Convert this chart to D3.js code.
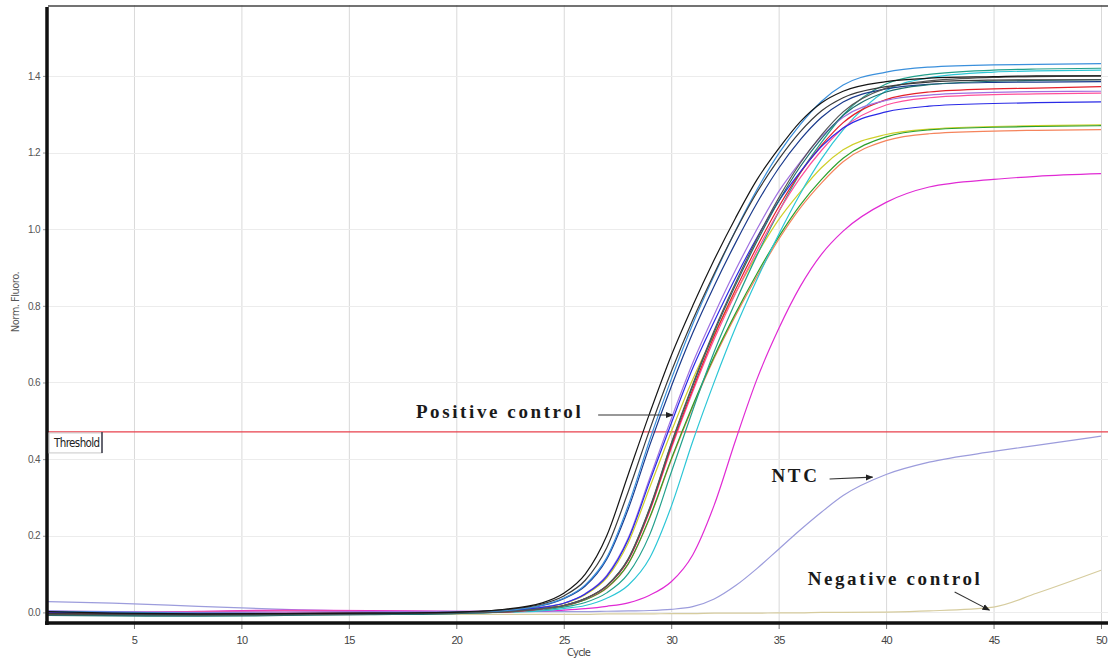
<!DOCTYPE html>
<html>
<head>
<meta charset="utf-8">
<script src="https://cdn.jsdelivr.net/npm/d3@7"></script>
<style>
    html, body { margin: 0; padding: 0; background: #fff; }
    #showBox { width: 1108px; height: 662px; }
</style>
</head>
<body>
<div id="showBox"></div>
<script>
const cycles = [1, 4, 8, 12, 16, 20, 22, 24, 25, 26, 27, 28, 29, 30, 31, 32, 33, 34, 35, 36, 37, 38, 40, 42, 45, 47, 50]

const black1 = [0.002, -0.002, -0.004, -0.003, -0.002, 0.001, .007, .025, .05, .10, .20, .36, .52, .67, .80, .92, 1.03, 1.13, 1.21, 1.28, 1.33, 1.36, 1.385, 1.394, 1.398, 1.40, 1.40]
const black2 = [-0.003, -0.004, -0.005, -0.004, -0.002, 0.0, .006, .022, .043, .084, .169, .315, .477, .628, .763, .884, .996, 1.097, 1.182, 1.254, 1.309, 1.343, 1.372, 1.384, 1.389, 1.39, 1.39]
const steelblue = [0.003, 0.001, -0.002, -0.003, -0.002, 0.001, .004, .019, .037, .072, .143, .279, .45, .608, .752, .879, .997, 1.104, 1.197, 1.273, 1.334, 1.376, 1.41, 1.423, 1.429, 1.43, 1.432]
const yellow = [-0.001, -0.003, -0.003, -0.002, -0.001, 0.001, .003, .013, .023, .046, .09, .182, .326, .471, .608, .725, .834, .935, 1.025, 1.097, 1.161, 1.207, 1.247, 1.261, 1.268, 1.27, 1.272]
const blue = [0.001, -0.001, -0.004, -0.005, -0.003, 0.0, .003, .013, .024, .048, .094, .19, .342, .493, .637, .759, .874, .979, 1.073, 1.149, 1.216, 1.264, 1.306, 1.321, 1.328, 1.33, 1.332]
const violet = [0.004, 0.002, 0.0, 0.001, 0.002, 0.003, .003, .014, .024, .049, .097, .194, .35, .505, .651, .777, .894, 1.001, 1.098, 1.175, 1.243, 1.292, 1.336, 1.35, 1.357, 1.359, 1.36]
const darkTeal = [-0.008, -0.009, -0.01, -0.008, -0.006, -0.003, .001, .01, .018, .036, .07, .139, .271, .438, .591, .731, .855, .969, 1.073, 1.163, 1.237, 1.297, 1.358, 1.377, 1.386, 1.388, 1.39]
const red = [-0.002, -0.003, -0.003, -0.002, 0.0, 0.001, .001, .01, .018, .036, .069, .137, .267, .432, .582, .721, .843, .955, 1.058, 1.147, 1.219, 1.278, 1.338, 1.358, 1.366, 1.368, 1.372]
const green = [-0.004, -0.005, -0.005, -0.004, -0.003, 0.0, .001, .009, .017, .033, .064, .127, .248, .4, .54, .668, .781, .885, .98, 1.063, 1.13, 1.185, 1.241, 1.259, 1.266, 1.268, 1.27]
const darkGray = [-0.006, -0.006, -0.007, -0.006, -0.004, -0.001, .001, .01, .018, .036, .07, .14, .273, .441, .595, .736, .861, .976, 1.081, 1.172, 1.246, 1.306, 1.368, 1.387, 1.396, 1.398, 1.40]
const pink = [0.0, 0.0, 0.002, 0.004, 0.003, 0.002, .001, .009, .018, .035, .068, .136, .264, .427, .576, .713, .833, .944, 1.046, 1.134, 1.206, 1.264, 1.324, 1.343, 1.351, 1.353, 1.355]
const salmon = [-0.002, -0.002, -0.003, -0.003, -0.002, 0.0, .001, .009, .016, .033, .063, .126, .246, .397, .536, .663, .775, .878, .973, 1.055, 1.121, 1.176, 1.231, 1.249, 1.256, 1.258, 1.26]
const tealGreen = [-0.007, -0.008, -0.008, -0.006, -0.004, -0.001, 0.0, .007, .014, .026, .051, .101, .203, .365, .527, .68, .811, .933, 1.045, 1.146, 1.227, 1.298, 1.379, 1.404, 1.415, 1.418, 1.42]
const cyan = [-0.004, -0.004, -0.005, -0.004, -0.003, -0.001, 0.0, .004, .01, .018, .037, .071, .142, .276, .446, .601, .744, .87, .986, 1.092, 1.184, 1.259, 1.361, 1.395, 1.41, 1.413, 1.415]
const navy = [-0.005, -0.006, -0.006, -0.005, -0.003, 0.0, .004, .018, .036, .069, .139, .27, .436, .589, .729, .852, .965, 1.069, 1.159, 1.233, 1.292, 1.332, 1.366, 1.378, 1.383, 1.384, 1.385]
const magenta = [0.001, 0.0, 0.003, 0.006, 0.005, 0.003, .003, .003, .006, .010, .016, .025, .045, .08, .15, .28, .45, .61, .74, .85, .935, .995, 1.07, 1.11, 1.13, 1.138, 1.145]
const ntc = [.028, .024, .016, .008, .003, .002, .002, .002, .002, .002, .003, .004, .005, .008, .015, .035, .07, .115, .165, .215, .262, .305, .36, .392, .42, .436, .46]
const negative = [-.006, -.006, -.006, -.006, -.005, -.005, -.005, -.005, -.005, -.005, -.004, -.004, -.004, -.003, -.003, -.002, -.002, -.002, -.001, -.001, 0, 0, .001, .004, .014, .05, .11]

const xTicks = [5, 10, 15, 20, 25, 30, 35, 40, 45, 50]
const yTicks = [0, 0.2, 0.4, 0.6, 0.8, 1.0, 1.2, 1.4]
const threshold = 0.471

const series = [
    {values: negative, color: "#d6cc9e"},
    {values: ntc, color: "#9c9cdc"},
    {values: magenta, color: "#e02ad4"},
    {values: salmon, color: "#f5845c"},
    {values: yellow, color: "#cfcf2a"},
    {values: green, color: "#2ca02c"},
    {values: cyan, color: "#2cc6d6"},
    {values: tealGreen, color: "#22a08c"},
    {values: pink, color: "#ff4f9a"},
    {values: red, color: "#e4202a"},
    {values: violet, color: "#a070e0"},
    {values: blue, color: "#2a2ae6"},
    {values: navy, color: "#1a3a8c"},
    {values: darkTeal, color: "#1e6e6e"},
    {values: darkGray, color: "#555555"},
    {values: steelblue, color: "#3b90dc"},
    {values: black2, color: "#3a3a3a"},
    {values: black1, color: "#151515"}
]

// annotation positions in data units (cycle, fluorescence)
const notes = [
    {text: "Positive control", x: 18.12, y: 0.507, from: [26.6, 0.515], to: [30.07, 0.515]},
    {text: "NTC", x: 34.67, y: 0.340, from: [37.37, 0.348], to: [39.37, 0.353]},
    {text: "Negative control", x: 36.35, y: 0.0715, from: [43.19, 0.053], to: [44.81, 0.006]}
]

const width = 1108, height = 662

const x = d3.scaleLinear().domain([1, 50]).range([48, 1101])
const y = d3.scaleLinear().domain([-0.025, 1.585]).range([622, 5])

const svg = d3.select("#showBox").append("svg")
    .attr("width", width)
    .attr("height", height)
    .style("font-family", "'Liberation Sans Narrow', 'DejaVu Sans Condensed', sans-serif")

svg.append("defs").append("marker")
    .attr("id", "head")
    .attr("viewBox", "0 0 10 10")
    .attr("refX", 9).attr("refY", 5)
    .attr("markerWidth", 7).attr("markerHeight", 7)
    .attr("orient", "auto-start-reverse")
    .append("path")
    .attr("d", "M0,1 L10,5 L0,9 z")
    .attr("fill", "#222")

// grid
svg.append("g")
    .attr("stroke", "#d9d9d9")
    .attr("stroke-width", 1)
    .selectAll("line")
    .data(xTicks)
    .join("line")
    .attr("x1", d => x(d) + 0.5).attr("x2", d => x(d) + 0.5)
    .attr("y1", y.range()[1]).attr("y2", y.range()[0])

svg.append("g")
    .attr("stroke", "#ececec")
    .attr("stroke-width", 1)
    .selectAll("line")
    .data(yTicks)
    .join("line")
    .attr("x1", x.range()[0]).attr("x2", width)
    .attr("y1", d => Math.round(y(d)) + 0.5).attr("y2", d => Math.round(y(d)) + 0.5)

// threshold
svg.append("line")
    .attr("x1", x.range()[0]).attr("x2", width)
    .attr("y1", y(threshold)).attr("y2", y(threshold))
    .attr("stroke", "#e8404c")
    .attr("stroke-width", 1.4)

// curves
const line = d3.line()
    .x((d, i) => x(cycles[i]))
    .y(d => y(d))
    .curve(d3.curveMonotoneX)

svg.append("g")
    .attr("fill", "none")
    .attr("stroke-width", 1.2)
    .selectAll("path")
    .data(series)
    .join("path")
    .attr("stroke", d => d.color)
    .attr("d", d => line(d.values))

// axes
const xAxis = d3.axisBottom(x).tickValues(xTicks).tickSize(6).tickPadding(7)
const gx = svg.append("g").attr("transform", `translate(0,${y.range()[0] + 1})`).call(xAxis)
gx.select(".domain").remove()
gx.selectAll(".tick line").attr("stroke", "#777")
gx.selectAll("text").attr("fill", "#444").attr("font-size", 11).attr("letter-spacing", -0.8)

const yAxis = d3.axisLeft(y).tickValues(yTicks).tickFormat(d3.format(".1f")).tickSize(4).tickPadding(3)
const gy = svg.append("g").attr("transform", `translate(${x.range()[0] - 1},0)`).call(yAxis)
gy.select(".domain").remove()
gy.selectAll(".tick line").attr("stroke", "#999")
gy.selectAll("text").attr("fill", "#555").attr("font-size", 10).attr("letter-spacing", -0.6)

// frame
svg.append("line")
    .attr("x1", x.range()[0]).attr("x2", width)
    .attr("y1", y.range()[1] + 1).attr("y2", y.range()[1] + 1)
    .attr("stroke", "#444").attr("stroke-width", 1.5)
svg.append("line")
    .attr("x1", x.range()[0] - 3).attr("x2", width)
    .attr("y1", y.range()[0] + 1).attr("y2", y.range()[0] + 1)
    .attr("stroke", "#111").attr("stroke-width", 3.5)
svg.append("line")
    .attr("x1", x.range()[0] - 1).attr("x2", x.range()[0] - 1)
    .attr("y1", y.range()[1] + 2).attr("y2", y.range()[0] + 3)
    .attr("stroke", "#111").attr("stroke-width", 3.5)

// axis titles
svg.append("text")
    .attr("x", (x.range()[0] + x.range()[1]) / 2 + 4)
    .attr("y", 656)
    .attr("text-anchor", "middle")
    .attr("font-size", 11)
    .attr("letter-spacing", -0.8)
    .attr("fill", "#444")
    .text("Cycle")

svg.append("text")
    .attr("transform", `translate(19,302) rotate(-90)`)
    .attr("text-anchor", "middle")
    .attr("font-size", 11)
    .attr("letter-spacing", -0.5)
    .attr("fill", "#555")
    .text("Norm. Fluoro.")

// threshold tag
const tag = svg.append("g").attr("transform", `translate(${x.range()[0] + 1},${y(threshold) + 1})`)
tag.append("rect")
    .attr("width", 53).attr("height", 20)
    .attr("fill", "#fff")
    .attr("stroke", "#c8c8c8")
tag.append("line")
    .attr("x1", 53).attr("x2", 53).attr("y1", -1).attr("y2", 20)
    .attr("stroke", "#223").attr("stroke-width", 1.3)
tag.append("text")
    .attr("x", 5).attr("y", 14)
    .attr("font-size", 11.5)
    .attr("letter-spacing", -0.6)
    .attr("fill", "#222")
    .text("Threshold")

// annotations
const ann = svg.append("g")
ann.selectAll("text")
    .data(notes)
    .join("text")
    .attr("x", d => x(d.x))
    .attr("y", d => y(d.y))
    .attr("font-family", "'Liberation Serif', 'DejaVu Serif', serif")
    .attr("font-weight", "bold")
    .attr("font-size", 19)
    .attr("letter-spacing", 2.6)
    .attr("fill", "#1a1a1a")
    .text(d => d.text)

ann.selectAll("line")
    .data(notes)
    .join("line")
    .attr("x1", d => x(d.from[0])).attr("y1", d => y(d.from[1]))
    .attr("x2", d => x(d.to[0])).attr("y2", d => y(d.to[1]))
    .attr("stroke", "#333")
    .attr("stroke-width", 1.1)
    .attr("marker-end", "url(#head)")
</script>
</body>
</html>
